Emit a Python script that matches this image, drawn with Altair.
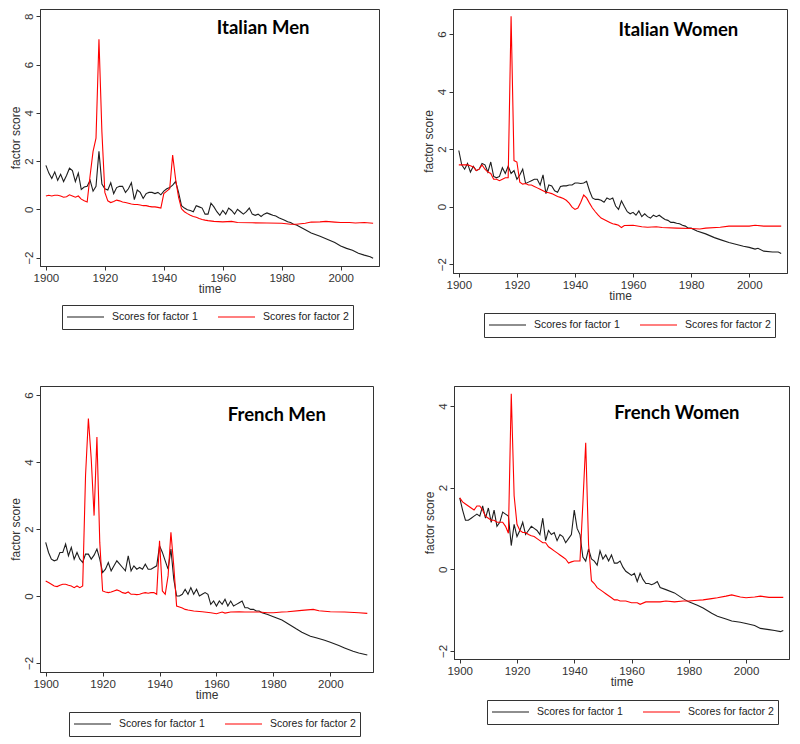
import altair as alt
import pandas as pd

SERIES = ["Scores for factor 1", "Scores for factor 2"]
XTICKS = [1900, 1920, 1940, 1960, 1980, 2000]

# ---------------- Italian Men ----------------
im_f1_years = list(range(1900, 1986)) + [1988, 1990, 1993, 1995, 1998, 2000, 2002, 2004, 2006, 2008, 2010, 2011]
im_f1_vals = [1.82, 1.50, 1.28, 1.55, 1.20, 1.45, 1.15, 1.40, 1.70, 1.60,
              1.15, 1.50, 0.82, 0.92, 0.95, 1.20, 0.75, 0.95, 2.40, 1.05,
              0.85, 0.80, 1.10, 0.65, 0.90, 0.95, 0.95, 0.70, 0.85, 1.10,
              0.40, 0.80, 0.70, 0.45, 0.65, 0.70, 0.70, 0.65, 0.70, 0.60,
              0.75, 0.85, 0.90, 1.00, 1.15, 0.70, 0.15, 0.05, -0.02, -0.05,
              -0.10, 0.15, 0.10, 0.05, -0.20, -0.20, 0.25, 0.10, -0.10, -0.25,
              -0.05, -0.20, 0.05, -0.05, -0.20, 0.00, -0.10, -0.20, -0.10, 0.05,
              -0.20, -0.25, -0.20, -0.30, -0.20, -0.15, -0.20, -0.25, -0.28, -0.35,
              -0.40, -0.45, -0.52, -0.55, -0.62, -0.65,
              -0.85, -0.98, -1.12, -1.22, -1.38, -1.52, -1.62, -1.70, -1.82, -1.90, -1.97, -2.03]
im_f2_years = list(range(1900, 1956)) + [1957, 1960, 1963, 1965, 1970, 1975, 1980, 1983, 1985, 1988, 1990, 1993, 1995, 1998, 2000, 2003, 2005, 2008, 2011]
im_f2_vals = [0.55, 0.58, 0.55, 0.58, 0.58, 0.55, 0.50, 0.52, 0.60, 0.55,
              0.50, 0.55, 0.42, 0.35, 0.30, 1.40, 2.40, 2.95, 7.05, 3.20,
              0.70, 0.35, 0.28, 0.32, 0.38, 0.35, 0.30, 0.28, 0.25, 0.22,
              0.20, 0.20, 0.18, 0.15, 0.15, 0.12, 0.10, 0.10, 0.08, 0.05,
              0.65, 0.75, 0.85, 2.25, 1.25, 0.50, 0.02, -0.10, -0.18, -0.25,
              -0.30, -0.33, -0.38, -0.42, -0.45, -0.47,
              -0.50, -0.52, -0.50, -0.55, -0.56, -0.57, -0.58, -0.62, -0.62, -0.58,
              -0.53, -0.52, -0.50, -0.53, -0.55, -0.55, -0.57, -0.55, -0.58]

# ---------------- Italian Women ----------------
iw_f1_years = list(range(1900, 1981)) + [1982, 1985, 1988, 1990, 1993, 1995, 1998, 2000, 2002, 2003, 2005, 2008, 2010, 2011]
iw_f1_vals = [1.95, 1.45, 1.30, 1.50, 1.20, 1.40, 1.25, 1.30, 1.50, 1.45,
              1.20, 1.55, 1.05, 1.00, 1.05, 1.35, 1.15, 1.40, 1.15, 1.25,
              0.95, 1.10, 1.30, 0.80, 0.85, 0.90, 0.95, 0.95, 0.75, 1.10,
              0.45, 0.75, 0.72, 0.55, 0.50, 0.70, 0.72, 0.72, 0.75, 0.75,
              0.82, 0.82, 0.80, 0.82, 0.88, 0.55, 0.30, 0.25, 0.25, 0.22,
              0.15, 0.30, 0.25, 0.30, 0.02, -0.10, 0.20, 0.00, -0.18, -0.25,
              -0.20, -0.30, -0.15, -0.35, -0.25, -0.35, -0.40, -0.30, -0.35, -0.30,
              -0.38, -0.45, -0.48, -0.55, -0.55, -0.58, -0.60, -0.65, -0.68, -0.75,
              -0.75,
              -0.85, -0.95, -1.08, -1.15, -1.25, -1.30, -1.38, -1.42, -1.48, -1.45, -1.55, -1.58, -1.58, -1.63]
iw_f2_years = list(range(1900, 1958)) + [1960, 1963, 1965, 1968, 1970, 1975, 1980, 1983, 1985, 1990, 1993, 1995, 2000, 2002, 2005, 2008, 2011]
iw_f2_vals = [1.45, 1.45, 1.45, 1.45, 1.42, 1.38, 1.25, 1.30, 1.45, 1.30,
              1.20, 1.15, 0.95, 0.95, 0.90, 0.95, 1.00, 1.00, 6.62, 1.60,
              1.55, 0.85, 0.78, 0.80, 0.75, 0.75, 0.70, 0.65, 0.60, 0.55,
              0.50, 0.48, 0.45, 0.40, 0.35, 0.32, 0.28, 0.22, 0.12, -0.02,
              -0.10, -0.05, 0.15, 0.40, 0.30, 0.12, -0.05, -0.18, -0.30, -0.40,
              -0.45, -0.50, -0.55, -0.60, -0.62, -0.65, -0.73, -0.66,
              -0.65, -0.70, -0.72, -0.70, -0.73, -0.75, -0.76, -0.78, -0.75, -0.72,
              -0.68, -0.68, -0.68, -0.65, -0.68, -0.68, -0.68]

# ---------------- French Men ----------------
fm_f1_years = list(range(1900, 1977)) + [1978, 1980, 1983, 1985, 1988, 1990, 1993, 1995, 1998, 2000, 2003, 2005, 2008, 2010, 2013]
fm_f1_vals = [1.60, 1.30, 1.10, 1.05, 1.08, 1.30, 1.30, 1.55, 1.20, 1.45,
              1.10, 1.30, 1.10, 1.00, 1.25, 1.25, 1.10, 1.22, 1.40, 1.10,
              0.70, 0.80, 1.00, 0.75, 0.90, 1.05, 0.95, 0.85, 0.75, 1.20,
              0.75, 0.90, 0.80, 0.85, 0.80, 0.95, 0.80, 0.80, 0.85, 0.90,
              1.50, 1.30, 1.05, 0.80, 1.40, 0.50, 0.00, 0.00, 0.05, 0.20,
              0.05, 0.25, 0.05, 0.20, 0.00, 0.05, 0.10, 0.05, -0.25, -0.15,
              -0.30, -0.15, -0.25, -0.10, -0.30, -0.15, -0.30, -0.25, -0.20, -0.15,
              -0.35, -0.35, -0.40, -0.40, -0.45, -0.45, -0.50,
              -0.55, -0.62, -0.72, -0.82, -0.98, -1.08, -1.20, -1.25, -1.32, -1.38, -1.48, -1.55, -1.65, -1.70, -1.76]
fm_f2_years = list(range(1900, 1951)) + [1952, 1955, 1958, 1960, 1962, 1963, 1965, 1968, 1970, 1975, 1978, 1980, 1983, 1985, 1990, 1994, 1996, 2000, 2005, 2010, 2013]
fm_f2_vals = [0.45, 0.40, 0.35, 0.30, 0.28, 0.32, 0.35, 0.35, 0.32, 0.30,
              0.25, 0.30, 0.25, 0.30, 3.60, 5.30, 4.10, 2.40, 4.75, 1.60,
              0.15, 0.12, 0.10, 0.12, 0.15, 0.18, 0.15, 0.10, 0.08, 0.12,
              0.05, 0.05, 0.04, 0.05, 0.08, 0.10, 0.08, 0.10, 0.10, 0.05,
              1.65, 0.15, 0.05, 0.60, 1.90, 0.90, -0.30, -0.33, -0.36, -0.40,
              -0.42,
              -0.45, -0.47, -0.50, -0.53, -0.48, -0.51, -0.48, -0.47, -0.48, -0.48,
              -0.50, -0.50, -0.48, -0.47, -0.43, -0.40, -0.44, -0.47, -0.48, -0.50, -0.52]

# ---------------- French Women ----------------
fw_f1_years = list(range(1900, 1971)) + [1972, 1975, 1978, 1980, 1983, 1985, 1988, 1990, 1993, 1995, 1998, 2000, 2003, 2005, 2008, 2010, 2012, 2013]
fw_f1_vals = [1.75, 1.45, 1.20, 1.20, 1.25, 1.30, 1.35, 1.30, 1.55, 1.25,
              1.50, 1.15, 1.45, 1.05, 1.15, 1.40, 1.35, 1.30, 0.58, 1.10,
              0.80, 0.95, 1.15, 0.85, 0.95, 1.05, 1.00, 0.95, 0.85, 1.25,
              0.70, 0.95, 0.85, 0.90, 0.70, 0.85, 0.80, 0.65, 0.75, 0.85,
              1.45, 1.00, 0.85, 0.30, 0.20, 0.50, 0.25, 0.20, 0.10, 0.45,
              0.25, 0.35, 0.20, 0.35, 0.15, 0.15, 0.20, 0.05, -0.05, -0.10,
              -0.15, -0.10, -0.30, -0.10, -0.25, -0.35, -0.35, -0.38, -0.35, -0.30,
              -0.45,
              -0.50, -0.58, -0.72, -0.80, -0.88, -0.95, -1.08, -1.15, -1.22, -1.27, -1.30, -1.33, -1.38, -1.45, -1.48, -1.50, -1.53, -1.50]
fw_f2_years = list(range(1900, 1957)) + [1958, 1960, 1962, 1963, 1965, 1968, 1970, 1972, 1975, 1978, 1980, 1983, 1985, 1988, 1990, 1993, 1995, 1998, 2000, 2003, 2005, 2008, 2010, 2013]
fw_f2_vals = [1.75, 1.65, 1.60, 1.55, 1.50, 1.45, 1.55, 1.55, 1.45, 1.30,
              1.25, 1.20, 1.20, 1.15, 1.15, 1.15, 1.05, 0.88, 4.30, 1.80,
              1.10, 0.95, 0.90, 0.90, 0.85, 0.82, 0.80, 0.75, 0.70, 0.65,
              0.65, 0.55, 0.50, 0.45, 0.40, 0.35, 0.30, 0.25, 0.15, 0.18,
              0.20, 0.20, 0.20, 1.60, 3.10, 0.60, -0.28, -0.35, -0.45, -0.50,
              -0.55, -0.60, -0.65, -0.70, -0.75, -0.75, -0.78,
              -0.78, -0.82, -0.82, -0.86, -0.80, -0.80, -0.80, -0.78, -0.80, -0.78,
              -0.78, -0.76, -0.75, -0.72, -0.70, -0.66, -0.63, -0.68, -0.70, -0.68,
              -0.66, -0.69, -0.69, -0.69]

# panel titles and their anchor point in data space
panel_names = ["Italian Men", "Italian Women", "French Men", "French Women"]
title_years = [1958, 1955, 1964, 1954]
title_scores = [7.5, 6.15, 5.41, 3.82]

FONT = "Liberation Sans, Arial, sans-serif"


def panel(i, f1_years, f1_vals, f2_years, f2_vals, xdom, ydom, yticks, w, h, lx, ly_off):
    df = pd.DataFrame({
        "year": f1_years + f2_years,
        "score": f1_vals + f2_vals,
        "series": [SERIES[0]] * len(f1_years) + [SERIES[1]] * len(f2_years),
    })
    xenc = alt.X("year:Q", title="time",
                 scale=alt.Scale(domain=xdom, nice=False, zero=False),
                 axis=alt.Axis(values=XTICKS, format="d", labelPadding=2, titlePadding=0))
    yenc = alt.Y("score:Q", title="factor score",
                 scale=alt.Scale(domain=ydom, nice=False, zero=False),
                 axis=alt.Axis(values=yticks, format="d", labelAngle=-90,
                               labelAlign="center", labelBaseline="bottom",
                               labelPadding=2, titlePadding=1))
    lines = alt.Chart(df).mark_line(strokeWidth=1.1).encode(
        x=xenc, y=yenc,
        color=alt.Color("series:N",
                        scale=alt.Scale(domain=SERIES, range=["#1e1e1e", "#ff0000"]),
                        legend=alt.Legend(title=None, orient="none", legendX=lx,
                                          legendY=h + ly_off, direction="horizontal",
                                          columns=2)),
        detail="series:N",
    )
    tdf = pd.DataFrame({"year": [title_years[i]], "score": [title_scores[i]],
                        "label": [panel_names[i]]})
    text = alt.Chart(tdf).mark_text(font="Lato", fontWeight="bold", fontSize=18.5,
                                    align="left", baseline="middle", color="#000").encode(
        x=alt.X("year:Q", title="time"),
        y=alt.Y("score:Q", title="factor score"),
        text="label:N",
    )
    return alt.layer(lines, text).properties(width=w, height=h)


p1 = panel(0, im_f1_years, im_f1_vals, im_f2_years, im_f2_vals,
           [1898, 2013], [-2.35, 8.3], [-2, 0, 2, 4, 6, 8], 339, 257, 22, 39)
p2 = panel(1, iw_f1_years, iw_f1_vals, iw_f2_years, iw_f2_vals,
           [1898, 2013], [-2.31, 6.87], [-2, 0, 2, 4, 6], 334, 264, 31, 40)
p3 = panel(2, fm_f1_years, fm_f1_vals, fm_f2_years, fm_f2_vals,
           [1898, 2015], [-2.27, 6.27], [-2, 0, 2, 4, 6], 333, 286, 29, 40)
p4 = panel(3, fw_f1_years, fw_f1_vals, fw_f2_years, fw_f2_vals,
           [1898, 2015], [-2.2, 4.49], [-2, 0, 2, 4], 335, 273, 33, 41)

row1 = alt.hconcat(p1, p2, spacing=41).resolve_scale(color="independent").resolve_legend(color="independent")
row2 = alt.hconcat(p3, p4, spacing=48).resolve_scale(color="independent").resolve_legend(color="independent")

chart = alt.vconcat(row1, row2, spacing=47).resolve_scale(
    color="independent").resolve_legend(color="independent").properties(
    padding=0, background="white"
).configure_view(
    stroke="#333", strokeWidth=1
).configure_axis(
    grid=False, domainColor="#333", domainWidth=1, tickColor="#333", tickSize=4,
    labelFont=FONT, labelFontSize=11.5, labelColor="#333",
    titleFont=FONT, titleFontSize=12, titleColor="#333", titleFontWeight="normal",
).configure_legend(
    strokeColor="#333", strokeWidth=1, fillColor="white", padding=4, cornerRadius=0,
    labelFont=FONT, labelFontSize=10.5, labelColor="#222",
    symbolType="stroke", symbolSize=1369, symbolStrokeWidth=1.2,
    columnPadding=19, labelOffset=7, rowPadding=0, clipHeight=16,
)

chart.save("out.html", embed_options={"renderer": "svg", "actions": False})
